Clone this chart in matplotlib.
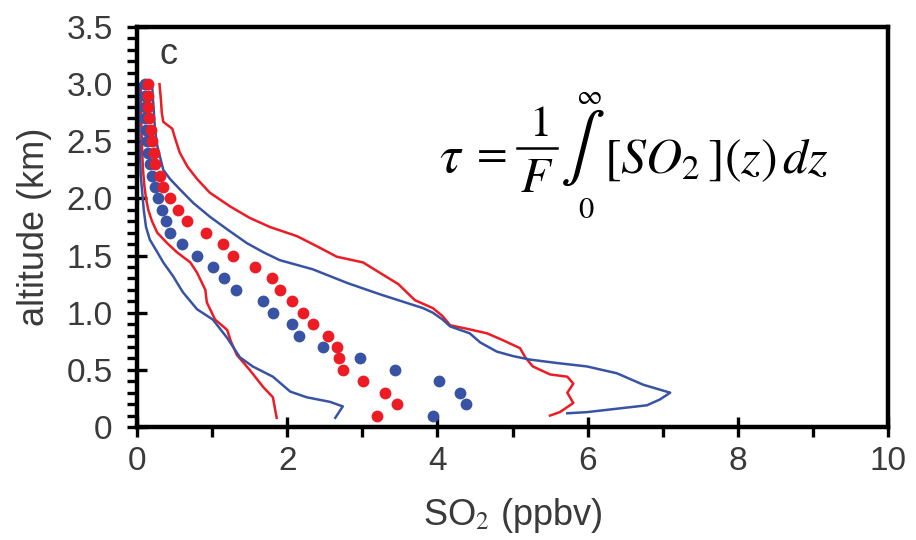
import matplotlib
matplotlib.use("Agg")
import matplotlib.pyplot as plt
from matplotlib.ticker import MultipleLocator
from matplotlib.lines import Line2D

# ---- data ----
alt_levels = [0.1, 0.2, 0.3, 0.4, 0.5, 0.6, 0.7, 0.8, 0.9, 1.0,
              1.1, 1.2, 1.3, 1.4, 1.5, 1.6, 1.7, 1.8, 1.9, 2.0,
              2.1, 2.2, 2.3, 2.4, 2.5, 2.6, 2.7, 2.8, 2.9, 3.0]
red_dots = [3.20, 3.46, 3.30, 3.01, 2.74, 2.69, 2.66, 2.54, 2.34, 2.21,
            2.06, 1.90, 1.80, 1.57, 1.28, 1.15, 0.92, 0.67, 0.55, 0.44,
            0.35, 0.31, 0.24, 0.22, 0.20, 0.18, 0.16, 0.15, 0.15, 0.14]
blue_dots = [3.94, 4.38, 4.30, 4.02, 3.44, 2.97, 2.48, 2.16, 2.06, 1.81,
             1.68, 1.32, 1.16, 1.01, 0.80, 0.60, 0.44, 0.38, 0.33, 0.28,
             0.24, 0.20, 0.17, 0.15, 0.13, 0.12, 0.11, 0.10, 0.10, 0.10]

red_low_x = [1.86, 1.84, 1.81, 1.68, 1.50, 1.33, 1.25, 1.20, 1.04, 0.93, 0.91, 0.80, 0.71,
             0.53, 0.40, 0.27, 0.20, 0.15, 0.12, 0.10, 0.08, 0.07, 0.06, 0.05, 0.05]
red_low_y = [0.08, 0.15, 0.26, 0.35, 0.50, 0.63, 0.75, 0.85, 0.94, 1.09, 1.20, 1.35, 1.44,
             1.53, 1.61, 1.70, 1.80, 1.90, 2.00, 2.10, 2.25, 2.40, 2.60, 2.80, 3.00]

blue_low_x = [2.64, 2.74, 2.57, 2.26, 2.04, 1.81, 1.54, 1.37, 1.20, 1.01, 0.80, 0.61, 0.48,
              0.35, 0.27, 0.17, 0.12, 0.09, 0.07, 0.05, 0.04, 0.03, 0.03, 0.03]
blue_low_y = [0.08, 0.18, 0.22, 0.26, 0.31, 0.44, 0.53, 0.61, 0.78, 0.94, 1.03, 1.18, 1.32,
              1.44, 1.53, 1.64, 1.75, 1.90, 2.05, 2.20, 2.40, 2.60, 2.80, 3.00]

red_high_x = [5.50, 5.63, 5.81, 5.73, 5.81, 5.73, 5.50, 5.27, 5.17, 5.10, 4.87, 4.66, 4.39,
              4.17, 4.07, 3.94, 3.70, 3.48, 3.01, 2.66, 2.40, 2.13, 1.77, 1.50, 1.24, 0.97,
              0.80, 0.67, 0.57, 0.51, 0.47, 0.35, 0.33, 0.32, 0.30]
red_high_y = [0.10, 0.13, 0.21, 0.30, 0.38, 0.44, 0.46, 0.53, 0.61, 0.69, 0.76, 0.82, 0.86,
              0.89, 0.97, 1.04, 1.11, 1.25, 1.44, 1.49, 1.58, 1.67, 1.75, 1.83, 1.93, 2.05,
              2.17, 2.28, 2.40, 2.52, 2.61, 2.67, 2.75, 2.85, 3.00]

blue_high_x = [5.73, 5.99, 6.39, 6.79, 6.96, 7.10, 6.74, 6.39, 5.99, 5.59, 5.23, 5.01, 4.79,
               4.57, 4.43, 4.17, 4.07, 3.94, 3.81, 3.24, 2.80, 2.34, 1.90, 1.68, 1.46, 1.20,
               0.97, 0.75, 0.57, 0.44, 0.35, 0.27, 0.24, 0.22, 0.20]
blue_high_y = [0.12, 0.13, 0.16, 0.19, 0.24, 0.30, 0.37, 0.47, 0.53, 0.56, 0.59, 0.62, 0.66,
               0.74, 0.82, 0.88, 0.94, 1.00, 1.04, 1.16, 1.26, 1.38, 1.46, 1.53, 1.61, 1.73,
               1.84, 1.96, 2.08, 2.17, 2.25, 2.46, 2.60, 2.80, 3.00]

x_ticks = [0, 2, 4, 6, 8, 10]
y_ticks = [0, 0.5, 1.0, 1.5, 2.0, 2.5, 3.0, 3.5]
y_tick_labels = ["0", "0.5", "1.0", "1.5", "2.0", "2.5", "3.0", "3.5"]

RED = "#ED1C24"
BLUE = "#3953A4"

W, H = 916, 540
plt.rcParams["mathtext.fontset"] = "stix"
fig = plt.figure(figsize=(W / 100, H / 100), dpi=100)
ax = fig.add_axes([137 / W, 1 - 427 / H, (888 - 137) / W, (427 - 27) / H])

ax.plot(red_low_x, red_low_y, color=RED, lw=1.8)
ax.plot(blue_low_x, blue_low_y, color=BLUE, lw=1.8)
ax.plot(red_high_x, red_high_y, color=RED, lw=1.8)
ax.plot(blue_high_x, blue_high_y, color=BLUE, lw=1.8)
ax.plot(blue_dots, alt_levels, "o", color=BLUE, ms=8.5, mec="none")
ax.plot(red_dots, alt_levels, "o", color=RED, ms=8.5, mec="none")

ax.set_xlim(0, 10)
ax.set_ylim(0, 3.5)
ax.set_xticks(x_ticks)
ax.set_xticklabels([str(t) for t in x_ticks])
ax.set_yticks(y_ticks)
ax.set_yticklabels(y_tick_labels)
ax.xaxis.set_minor_locator(MultipleLocator(1))
ax.yaxis.set_minor_locator(MultipleLocator(0.1))

for s in ax.spines.values():
    s.set_linewidth(3.2)

lab_col = "#3a3a3a"
ax.tick_params(which="major", direction="inout", length=15, width=2.4,
               labelsize=24, labelcolor=lab_col)
ax.tick_params(axis="y", which="major", pad=10)
ax.tick_params(axis="x", which="major", pad=6)
ax.tick_params(which="minor", direction="out", length=7, width=2.4)
for lab in ax.get_xticklabels() + ax.get_yticklabels():
    lab.set_family("Liberation Sans")

ax.set_xlabel("SO$_2$ (ppbv)", fontsize=26, color=lab_col, family="Liberation Sans", labelpad=14)
ax.set_ylabel("altitude (km)", fontsize=26, color=lab_col, family="Liberation Sans", labelpad=10)

ax.text(0.03, 0.975, "c", transform=ax.transAxes, fontsize=26, color=lab_col,
        family="Liberation Sans", va="top", ha="left")

# ---- formula ----
def fx(px):
    return px / W

def fy(py):
    return 1 - py / H

fig.text(fx(451), fy(157), r"$\tau$", fontsize=38, ha="center", va="center")
fig.text(fx(488), fy(152), r"$=$", fontsize=32, ha="center", va="center")
fig.text(fx(539), fy(124), r"$\mathrm{1}$", fontsize=32, ha="center", va="center")
fig.add_artist(Line2D([fx(517), fx(557)], [fy(148), fy(148)], color="black", lw=1.8))
fig.text(fx(537), fy(178), r"$F$", fontsize=35, ha="center", va="center")
fig.text(fx(582), fy(148), r"$\int$", fontsize=48, ha="center", va="center")
fig.text(fx(589), fy(96), r"$\infty$", fontsize=20, ha="center", va="center")
fig.text(fx(586), fy(210), r"$\mathrm{0}$", fontsize=22, ha="center", va="center")
fig.text(fx(604), fy(160), r"$[SO_2\,](z)\,dz$", fontsize=36, ha="left", va="center")

fig.savefig("out.png", dpi=100)
